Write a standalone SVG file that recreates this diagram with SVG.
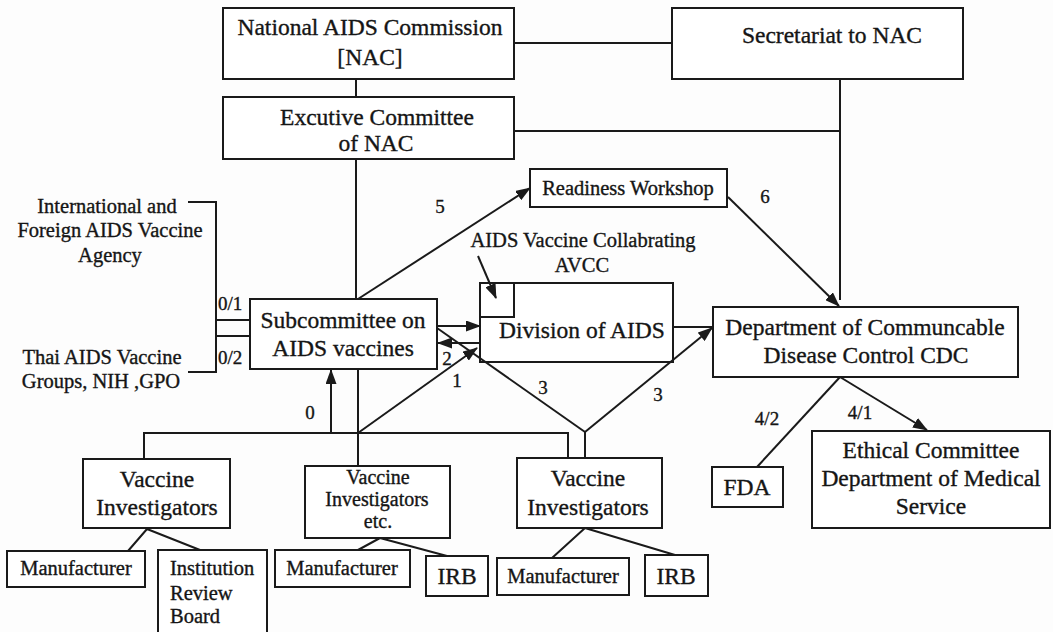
<svg xmlns="http://www.w3.org/2000/svg" width="1053" height="632" viewBox="0 0 1053 632">
<style>
.box{fill:#fff;stroke:#1a1a1a;stroke-width:2}
.ln{fill:none;stroke:#1a1a1a;stroke-width:2}
.arr{fill:none;stroke:#1a1a1a;stroke-width:2;marker-end:url(#ah)}
text{font-family:"Liberation Serif","Times New Roman",serif;fill:#151515;stroke:#151515;stroke-width:0.35}
.t{font-size:23.5px;text-anchor:middle}
.m{font-size:20px;text-anchor:middle}
.s{font-size:20.5px;text-anchor:middle}
.sl{font-size:20.5px}
.n{font-size:19px;text-anchor:middle}
</style>
<defs>
<marker id="ah" markerUnits="userSpaceOnUse" markerWidth="15" markerHeight="11" refX="14" refY="5.5" orient="auto">
<path d="M0,0 L15,5.5 L0,11 z" fill="#1a1a1a"/>
</marker>
</defs>
<rect width="1053" height="632" fill="#fdfdfd"/>

<g id="nac">
<rect class="box" x="223" y="8" width="291" height="71"/>
<text class="t" x="370" y="35">National AIDS Commission</text>
<text class="t" x="370" y="65">[NAC]</text>
</g>
<g id="secretariat">
<rect class="box" x="672" y="8" width="291" height="71"/>
<text class="t" x="832" y="43">Secretariat to NAC</text>
</g>
<g id="executive">
<rect class="box" x="223" y="97" width="291" height="62"/>
<text class="t" x="377" y="125">Excutive Committee</text>
<text class="t" x="376" y="151">of NAC</text>
</g>
<g id="readiness">
<rect class="box" x="530" y="169" width="197" height="38"/>
<text class="s" x="628" y="195">Readiness Workshop</text>
</g>
<g id="international">
<text class="s" x="107" y="213">International and</text>
<text class="s" x="110" y="237">Foreign AIDS Vaccine</text>
<text class="s" x="110" y="262">Agency</text>
</g>
<g id="thai">
<text class="s" x="102" y="364">Thai AIDS Vaccine</text>
<text class="s" x="101" y="388">Groups, NIH ,GPO</text>
</g>
<g id="avcc">
<text class="s" x="583" y="247">AIDS Vaccine Collabrating</text>
<text class="s" x="582" y="272">AVCC</text>
</g>
<g id="division">
<rect class="box" x="480" y="283" width="193" height="79"/>
<rect class="box" x="480" y="283" width="34" height="34"/>
<text class="t" x="582" y="338">Division of AIDS</text>
</g>
<g id="subcommittee">
<rect class="box" x="250" y="299" width="187" height="70"/>
<text class="t" x="343" y="328">Subcommittee on</text>
<text class="t" x="343" y="356">AIDS vaccines</text>
</g>
<g id="cdc">
<rect class="box" x="713" y="307" width="305" height="70"/>
<text class="t" x="865" y="335">Department of Communcable</text>
<text class="t" x="866" y="363">Disease Control CDC</text>
</g>
<g id="vi1">
<rect class="box" x="83" y="459" width="147" height="69"/>
<text class="t" x="157" y="487">Vaccine</text>
<text class="t" x="157" y="515">Investigators</text>
</g>
<g id="vi2">
<rect class="box" x="305" y="466" width="145" height="72"/>
<text class="m" x="378" y="484">Vaccine</text>
<text class="m" x="377" y="506">Investigators</text>
<text class="m" x="378" y="528">etc.</text>
</g>
<g id="vi3">
<rect class="box" x="517" y="458" width="145" height="70"/>
<text class="t" x="588" y="486">Vaccine</text>
<text class="t" x="588" y="515">Investigators</text>
</g>
<g id="manufacturer1">
<rect class="box" x="7" y="551" width="138" height="36"/>
<text class="s" x="76" y="575">Manufacturer</text>
</g>
<g id="irb-board">
<rect class="box" x="158" y="550" width="109" height="92"/>
<text class="sl" x="170" y="575">Institution</text>
<text class="sl" x="170" y="600">Review</text>
<text class="sl" x="170" y="623">Board</text>
</g>
<g id="manufacturer2">
<rect class="box" x="275" y="550" width="135" height="37"/>
<text class="s" x="342" y="575">Manufacturer</text>
</g>
<g id="irb2">
<rect class="box" x="426" y="556" width="62" height="40"/>
<text class="t" x="457" y="584">IRB</text>
</g>
<g id="manufacturer3">
<rect class="box" x="497" y="558" width="132" height="37"/>
<text class="s" x="563" y="583">Manufacturer</text>
</g>
<g id="irb3">
<rect class="box" x="645" y="555" width="63" height="41"/>
<text class="t" x="676" y="584">IRB</text>
</g>
<g id="fda">
<rect class="box" x="712" y="467" width="71" height="40"/>
<text class="t" x="747" y="495">FDA</text>
</g>
<g id="ethical">
<rect class="box" x="812" y="431" width="238" height="97"/>
<text class="t" x="931" y="458">Ethical Committee</text>
<text class="t" x="931" y="486">Department of Medical</text>
<text class="t" x="931" y="514">Service</text>
</g>

<g id="connectors">
<path class="ln" d="M514,43 H672"/>
<path class="ln" d="M356,79 V97"/>
<path class="ln" d="M514,131 H840"/>
<path class="ln" d="M840,79 V300"/>
<path class="ln" d="M356,159 V299"/>
<path class="arr" d="M358,299 L530,188"/>
<path class="arr" d="M728,197 L839,306"/>
<path class="arr" d="M478,256 L496,298"/>
<path class="ln" d="M188,202 H216 V372 H188"/>
<path class="ln" d="M216,320 H250 M216,336 H250"/>
<path class="arr" d="M437,326 H480"/>
<path class="arr" d="M480,343 H438"/>
<path class="ln" d="M437,328 L585,432"/>
<path class="arr" d="M358,433 L477,348"/>
<path class="arr" d="M331,433 V370"/>
<path class="ln" d="M358,369 V466"/>
<path class="ln" d="M144,459 V433 H568 V458"/>
<path class="arr" d="M585,432 L712,328"/>
<path class="ln" d="M585,432 V458"/>
<path class="ln" d="M673,327 H713"/>
<path class="ln" d="M147,529 L128,551 M147,529 L200,550"/>
<path class="ln" d="M380,538 L358,550 M380,538 L447,556"/>
<path class="ln" d="M585,528 L552,558 M585,528 L675,555"/>
<path class="ln" d="M840,377 L757,467"/>
<path class="arr" d="M840,377 L927,430"/>
<text class="n" x="440" y="213">5</text>
<text class="n" x="765" y="203">6</text>
<text class="sl" x="218" y="310" style="font-size:19px">0/1</text>
<text class="sl" x="218" y="364" style="font-size:19px">0/2</text>
<text class="n" x="447" y="365">2</text>
<text class="n" x="457" y="387">1</text>
<text class="n" x="310" y="419">0</text>
<text class="n" x="543" y="394">3</text>
<text class="n" x="658" y="401">3</text>
<text class="n" x="767" y="425">4/2</text>
<text class="n" x="860" y="419">4/1</text>
</g>
</svg>
